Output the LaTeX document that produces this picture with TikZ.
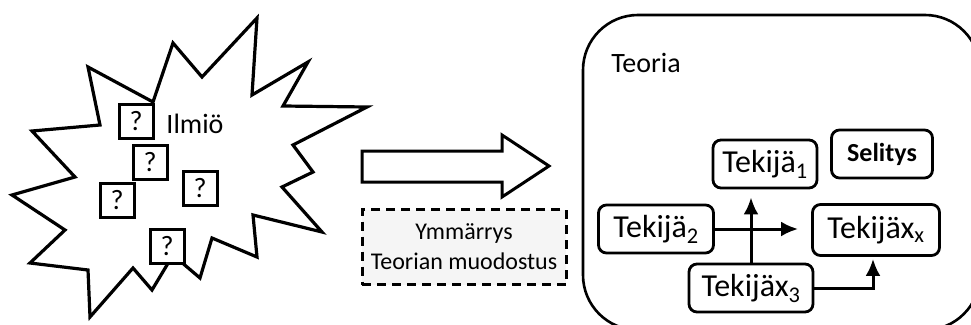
\documentclass[tikz,border=0pt]{standalone}
\usepackage{fontspec}
\setmainfont{Carlito}
\usetikzlibrary{positioning,arrows.meta}
\newcommand\fsz[1]{\fontsize{#1}{#1}\selectfont}
\tikzset{
  tekbox/.style={draw,rounded corners=8pt,line width=2.8pt,minimum height=48pt,inner sep=4pt,font=\fsz{32}},
  link/.style={-{Latex[length=17pt,width=15pt]},line width=3pt}
}
\begin{document}
\begin{tikzpicture}[x=1pt,y=-1pt]%
        \useasboundingbox (0,0) rectangle (971,324);%%
        \clip (0,0) rectangle (971,324);%%
        % phenomenon as a starburst
        \draw[line width=3.2pt,fill=white] (88,67) -- (153,102) -- (173,43) -- (202,77) -- (257,18) -- (252,95)
              -- (308,62) -- (283,106) -- (367,107) -- (293,145) -- (313,172) -- (282,187) -- (322,232)
              -- (253,215) -- (257,257) -- (212,238) -- (200,278) -- (173,255) -- (152,290) -- (133,268)
              -- (90,317) -- (88,270) -- (30,263) -- (65,230) -- (12,195) -- (75,177) -- (32,131)
              -- (100,125) -- cycle;%%
        \begin{scope}
        \tikzstyle{every node}=[draw,line width=3pt,fill=white,minimum size=34pt,inner sep=0pt,font=\fsz{28}] %%
        \node (q1) at (136,121) {?}; %%
        \node (q2) at (150,162) {?}; %%
        \node (q3) at (117,200) {?}; %%
        \node (q4) at (200,188) {?}; %%
        \node (q5) at (167,246) {?}; %%
        \end{scope}
        \node[font=\fsz{28}] (ilmio) at (195,124) {Ilmiö}; %%
        % big arrow and the dashed caption below it
        \draw[line width=3pt] (362,151) -- (502,151) -- (502,135) -- (549,166) -- (502,197) -- (502,182) -- (362,182) -- cycle; %%
        \node[draw,dash pattern=on 9pt off 6pt,line width=3pt,fill=black!4,minimum width=204pt,minimum height=75pt,
              align=center,font=\fontsize{24}{30}\selectfont] (ymm) at (464,247) {Ymmärrys\\Teorian muodostus}; %%
        % theory
        \node[draw,line width=2.6pt,rounded corners=55pt,minimum width=397pt,minimum height=315pt] (teoria) at (781.5,172.5) {}; %%
        \node[font=\fsz{28}] (teorialbl) at (646,63) {Teoria}; %%
        \node[tekbox,minimum width=104pt] (t1) at (765,164) {Tekijä\textsubscript{1}}; %%
        \node[tekbox,minimum width=101pt,font=\bfseries\fsz{26}] (sel) at (882,154) {Selitys}; %%
        \node[tekbox,minimum width=115pt] (t2) at (656,229) {Tekijä\textsubscript{2}}; %%
        \node[tekbox,minimum width=127pt,minimum height=51pt] (tx) at (876,230) {Tekijäx\textsubscript{x}}; %%
        \node[tekbox,minimum width=124pt] (t3) at (751,288) {Tekijäx\textsubscript{3}}; %%
        \draw[link,shorten >=13pt] (t2.east) -- (t2.east -| tx.west); %%
        \draw[link,shorten >=8pt] (t3.north) -- (t3.north |- t1.south); %%
        \draw[link,shorten >=2pt] (t3.east) -| ([xshift=-3pt]tx.south); %%
\end{tikzpicture}
\end{document}
